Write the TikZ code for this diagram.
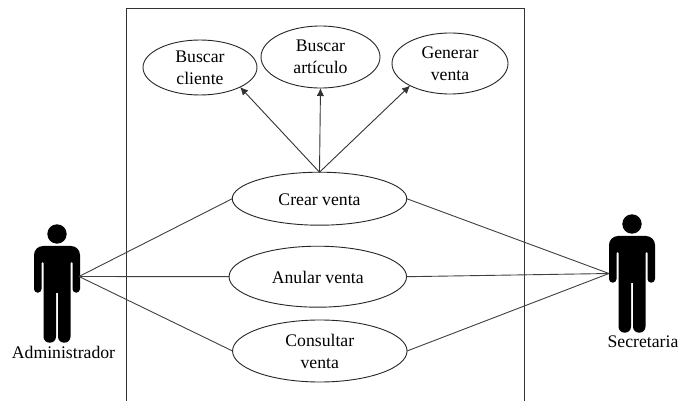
\documentclass[tikz,border=0pt]{standalone}
\usepackage{fontspec}
\setmainfont{Liberation Serif}
\usetikzlibrary{arrows.meta,shapes.geometric}
\tikzset{
  usecase/.style={draw=black!85,line width=0.9pt,fill=white,shape=ellipse,inner sep=0pt,outer sep=0pt,align=center,font=\fontsize{17.7pt}{22pt}\selectfont,minimum width=#1},
  label text/.style={font=\fontsize{17.7pt}{22pt}\selectfont,inner sep=0pt},
  assoc/.style={draw=black!75,line width=0.9pt},
  incl/.style={draw=black!80,line width=0.9pt,-{Latex[length=8pt,width=7.5pt]}},
  frame line/.style={draw=black!80,line width=0.9pt},
  actor/.pic={
    \fill[black] (0,-42) circle (9.7);
    \fill[black,rounded corners=9pt] (-23,-30) -- (23,-30) [rounded corners=3.7pt] -- (23,16.7) -- (15.5,16.7) [rounded corners=1pt] -- (15.5,-14) -- (13.5,-14) [rounded corners=6pt] -- (13.5,66.7) -- (1,66.7) [sharp corners] -- (1,17) -- (-1,17) [rounded corners=6pt] -- (-1,66.7) -- (-13.5,66.7) [rounded corners=1pt] -- (-13.5,-14) -- (-15.5,-14) [rounded corners=3.7pt] -- (-15.5,16.7) -- (-23,16.7) [rounded corners=9pt] -- cycle;
  }
}
\begin{document}
\begin{tikzpicture}[x=1pt,y=-1pt]
\useasboundingbox (0,0) rectangle (681,401);
\fill[white] (0,0) rectangle (681,401);
\draw[frame line] (126.5,401) -- (126.5,8.5) -- (524,8.5) -- (524,401);
\pic at (57,276) {actor};
\pic at (632,266) {actor};
\coordinate (adm) at (79,276.5);
\coordinate (sec) at (609,273.5);
\node[label text] (admlabel) at (63.5,352) {Administrador};
\node[label text] (seclabel) at (643,342) {Secretaria};
\node[usecase=114pt,minimum height=55pt] (cliente) at (200,67.5) {Buscar\\cliente};
\node[usecase=119pt,minimum height=62pt] (articulo) at (320.5,57) {Buscar\\artículo};
\node[usecase=116pt,minimum height=61pt] (generar) at (450,63.5) {Generar\\venta};
\node[usecase=174.5pt,minimum height=53pt,text height=14pt,text depth=0pt] (crear) at (319.5,198.7) {Crear venta};
\node[usecase=177.5pt,minimum height=61pt,text height=13pt,text depth=0pt] (anular) at (317.8,276.7) {Anular venta};
\node[usecase=174.5pt,minimum height=62pt] (consultar) at (319.8,351) {Consultar\\venta};
\draw[incl] (crear.north) -- (cliente.-26);
\draw[incl] (crear.north) -- (articulo.south);
\draw[incl] (crear.north) -- (generar.209);
\draw[assoc] (adm) -- (crear.west);
\draw[assoc] (adm) -- (anular.west);
\draw[assoc] (adm) -- (consultar.west);
\draw[assoc] (sec) -- (crear.east);
\draw[assoc] (sec) -- (anular.east);
\draw[assoc] (sec) -- (consultar.east);
\end{tikzpicture}
\end{document}
